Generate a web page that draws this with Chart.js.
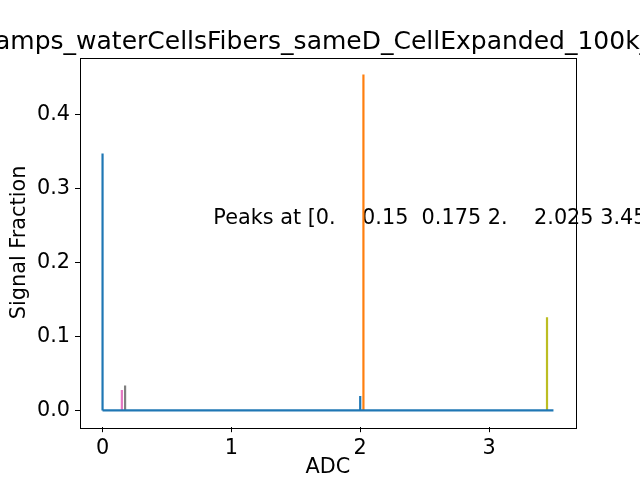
<!DOCTYPE html>
<html>
<head>
<meta charset="utf-8">
<script src="https://cdn.jsdelivr.net/npm/chart.js@4/dist/chart.umd.min.js"></script>
<style>
	body { margin: 0; background: #ffffff; }
	#chart-canvas { display: block; }
</style>
</head>
<body>
<canvas id="chart-canvas" width="640" height="480"></canvas>
<script>
// values
const titleText = "amps_waterCellsFibers_sameD_CellExpanded_100k_";
const peakText = "Peaks at [0.    0.15  0.175 2.    2.025 3.45 ]";

const baseADC = [0, 3.5];
const baseFraction = [0, 0];

const peakADC = [0, 0.15, 0.175, 2.0, 2.025, 3.45];
const peakFraction = [0.347, 0.0274, 0.0337, 0.0193, 0.4537, 0.1257];
const peakColors = ["#1f77b4", "#e377c2", "#7f7f7f", "#1f77b4", "#ff7f0e", "#bcbd22"];

const xTicks = [0, 1, 2, 3];
const yTicks = [0.0, 0.1, 0.2, 0.3, 0.4];

const fontFamily = "'DejaVu Sans', sans-serif";

let datasets = [];
datasets.push({
	label: "signal",
	data: baseADC.map((x, i) => ({ x: x, y: baseFraction[i] })),
	borderColor: "#1f77b4",
	borderWidth: 2.2,
	pointRadius: 0
});
for (let i = 0; i < peakADC.length; i++)
{
	datasets.push({
		label: "peak " + peakADC[i],
		data: [{ x: peakADC[i], y: 0 }, { x: peakADC[i], y: peakFraction[i] }],
		borderColor: peakColors[i],
		borderWidth: 2.2,
		pointRadius: 0
	});
}

const textPlugin = {
	id: "matplotlibText",
	beforeDatasetsDraw(chart)
	{
		const ctx = chart.ctx;
		const xs = chart.scales.x;
		const ys = chart.scales.y;
		ctx.save();
		ctx.fillStyle = "#000000";
		ctx.font = "20.8px " + fontFamily;
		ctx.textAlign = "left";
		ctx.textBaseline = "alphabetic";
		ctx.fillText(peakText, xs.getPixelForValue(0.86), ys.getPixelForValue(0.252));
		ctx.restore();
	},
	afterDraw(chart)
	{
		const ctx = chart.ctx;
		const area = chart.chartArea;
		ctx.save();
		ctx.strokeStyle = "#000000";
		ctx.lineWidth = 1;
		ctx.strokeRect(Math.round(area.left) + 0.5, Math.round(area.top) + 0.5,
			Math.round(area.right - area.left), Math.round(area.bottom - area.top));
		ctx.fillStyle = "#000000";
		ctx.font = "25px " + fontFamily;
		ctx.textAlign = "left";
		ctx.textBaseline = "alphabetic";
		ctx.fillText(titleText, -5, 49);
		ctx.restore();
	}
};

new Chart(document.getElementById("chart-canvas").getContext("2d"),
{
	type: "line",
	data: { datasets: datasets },
	plugins: [textPlugin],
	options:
	{
		responsive: false,
		animation: false,
		devicePixelRatio: 1,
		layout: { padding: { left: 0, right: 64, top: 57.6, bottom: 0 } },
		plugins:
		{
			legend: { display: false },
			tooltip: { enabled: false },
			title: { display: false }
		},
		elements: { line: { tension: 0 } },
		scales:
		{
			x:
			{
				type: "linear",
				min: -0.175,
				max: 3.675,
				afterFit: (scale) => { scale.height = 52.8; },
				afterBuildTicks: (scale) => { scale.ticks = xTicks.map(v => ({ value: v })); },
				border: { display: false },
				grid: { display: true, drawOnChartArea: false, drawTicks: true, tickLength: 5, color: "#000000", lineWidth: 1 },
				ticks:
				{
					color: "#000000",
					padding: 4,
					maxRotation: 0,
					font: { family: fontFamily, size: 20.8 },
					callback: (value) => "" + value
				},
				title:
				{
					display: true,
					text: "ADC",
					color: "#000000",
					padding: { top: 0, bottom: 0 },
					font: { family: fontFamily, size: 20.8 }
				}
			},
			y:
			{
				type: "linear",
				min: -0.0227,
				max: 0.4764,
				afterFit: (scale) => { scale.width = 80; },
				afterBuildTicks: (scale) => { scale.ticks = yTicks.map(v => ({ value: v })); },
				border: { display: false },
				grid: { display: true, drawOnChartArea: false, drawTicks: true, tickLength: 5, color: "#000000", lineWidth: 1 },
				ticks:
				{
					color: "#000000",
					padding: 5,
					font: { family: fontFamily, size: 20.8 },
					callback: (value) => value.toFixed(1)
				},
				title:
				{
					display: true,
					text: "Signal Fraction",
					color: "#000000",
					padding: { top: 7, bottom: 0 },
					font: { family: fontFamily, size: 20.8 }
				}
			}
		}
	}
});
</script>
</body>
</html>
